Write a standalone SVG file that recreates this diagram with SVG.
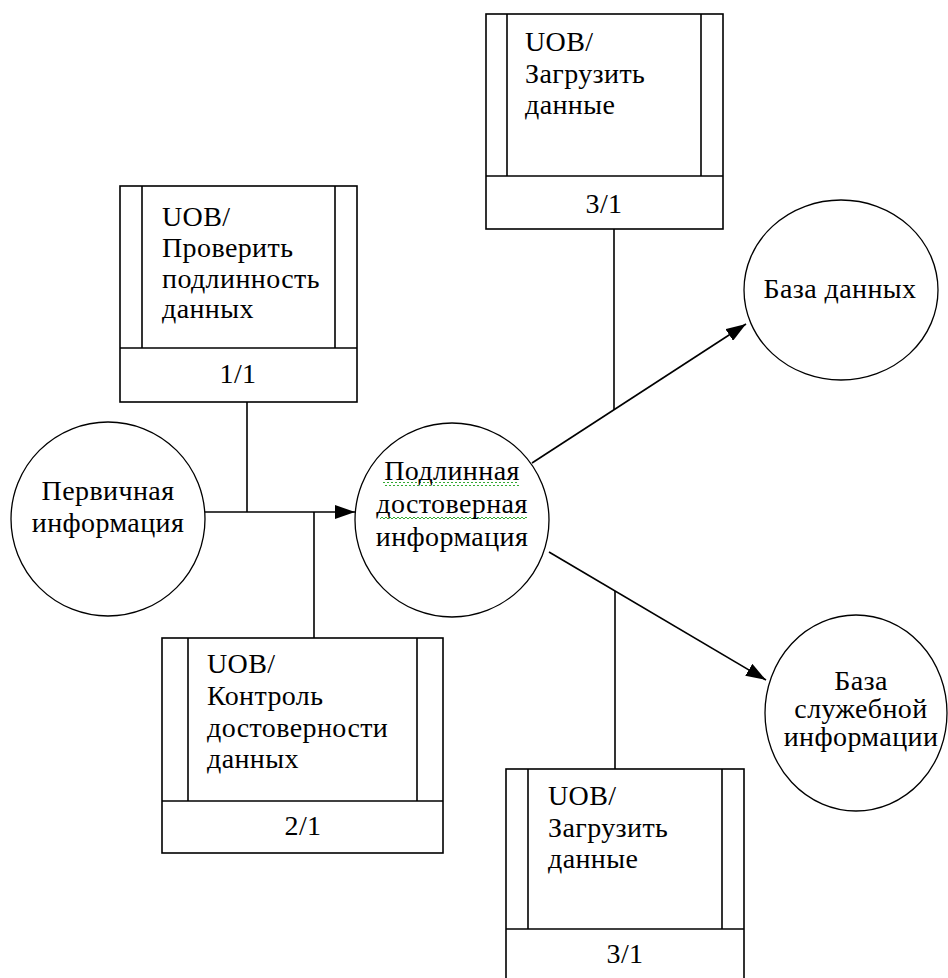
<svg xmlns="http://www.w3.org/2000/svg" width="948" height="978" viewBox="0 0 948 978">
<style>
  text { font-family: "Liberation Serif", "Times New Roman", serif; font-size: 28px; fill: #000; letter-spacing: 0.4px; }
  .c { text-anchor: middle; }
  .box { fill: #fff; stroke: #000; stroke-width: 1.6; }
  .ln { stroke: #000; stroke-width: 1.6; fill: none; }
  .circ { fill: #fff; stroke: #000; stroke-width: 1.3; }
</style>
<defs>
  <marker id="arr" markerWidth="20" markerHeight="14" refX="20" refY="7" orient="auto" markerUnits="userSpaceOnUse">
    <path d="M0,0 L20,7 L0,14 Z" fill="#000"/>
  </marker>
  <pattern id="wavy" width="4" height="4" patternUnits="userSpaceOnUse">
    <path d="M0,3 L2,1 L4,3" stroke="#3a3" stroke-width="1" fill="none"/>
  </pattern>
</defs>
<rect width="948" height="978" fill="#fff"/>

<g id="connectors">
  <line class="ln" x1="205" y1="512" x2="355" y2="512" marker-end="url(#arr)"/>
  <line class="ln" x1="247" y1="402" x2="247" y2="512"/>
  <line class="ln" x1="314" y1="512" x2="314" y2="638"/>
  <line class="ln" x1="532" y1="463" x2="746" y2="324" marker-end="url(#arr)"/>
  <line class="ln" x1="614" y1="229" x2="614" y2="410"/>
  <line class="ln" x1="549" y1="552" x2="766" y2="680" marker-end="url(#arr)"/>
  <line class="ln" x1="615" y1="591" x2="615" y2="769"/>
</g>

<g id="store-top">
  <rect class="box" x="486" y="14" width="237" height="215"/>
  <line class="ln" x1="486" y1="176" x2="723" y2="176"/>
  <line class="ln" x1="507" y1="14" x2="507" y2="176"/>
  <line class="ln" x1="701" y1="14" x2="701" y2="176"/>
  <text x="525" y="51">UOB/</text>
  <text x="525" y="83">Загрузить</text>
  <text x="525" y="114">данные</text>
  <text class="c" x="604" y="213">3/1</text>
</g>

<g id="store-1">
  <rect class="box" x="120" y="186" width="237" height="216"/>
  <line class="ln" x1="120" y1="348" x2="357" y2="348"/>
  <line class="ln" x1="142" y1="186" x2="142" y2="348"/>
  <line class="ln" x1="335" y1="186" x2="335" y2="348"/>
  <text x="162" y="226">UOB/</text>
  <text x="162" y="257">Проверить</text>
  <text x="162" y="288">подлинность</text>
  <text x="162" y="318">данных</text>
  <text class="c" x="238" y="383">1/1</text>
</g>

<g id="store-2">
  <rect class="box" x="162" y="638" width="281" height="215"/>
  <line class="ln" x1="162" y1="801" x2="443" y2="801"/>
  <line class="ln" x1="188" y1="638" x2="188" y2="801"/>
  <line class="ln" x1="417" y1="638" x2="417" y2="801"/>
  <text x="207" y="673">UOB/</text>
  <text x="207" y="705">Контроль</text>
  <text x="207" y="737">достоверности</text>
  <text x="207" y="768">данных</text>
  <text class="c" x="303" y="835">2/1</text>
</g>

<g id="store-bottom">
  <rect class="box" x="506" y="769" width="238" height="215"/>
  <line class="ln" x1="506" y1="929" x2="744" y2="929"/>
  <line class="ln" x1="528" y1="769" x2="528" y2="929"/>
  <line class="ln" x1="722" y1="769" x2="722" y2="929"/>
  <text x="548" y="805">UOB/</text>
  <text x="548" y="837">Загрузить</text>
  <text x="548" y="868">данные</text>
  <text class="c" x="625" y="963">3/1</text>
</g>

<g id="primary-info">
  <ellipse class="circ" cx="108" cy="519" rx="97" ry="97"/>
  <text class="c" x="108" y="500">Первичная</text>
  <text class="c" x="108" y="532">информация</text>
</g>

<g id="verified-info">
  <ellipse class="circ" cx="452" cy="520" rx="97" ry="97"/>
  <rect x="383" y="482" width="136" height="4" fill="url(#wavy)"/>
  <rect x="380" y="515" width="147" height="4" fill="url(#wavy)"/>
  <text class="c" x="452" y="480">Подлинная</text>
  <text class="c" x="452" y="513">достоверная</text>
  <text class="c" x="452" y="546">информация</text>
</g>

<g id="database">
  <ellipse class="circ" cx="841" cy="290" rx="97" ry="90"/>
  <text class="c" x="840" y="298">База данных</text>
</g>

<g id="service-db">
  <ellipse class="circ" cx="856" cy="713" rx="91" ry="98"/>
  <text class="c" x="861" y="690">База</text>
  <text class="c" x="861" y="718">служебной</text>
  <text class="c" x="861" y="746">информации</text>
</g>
</svg>
